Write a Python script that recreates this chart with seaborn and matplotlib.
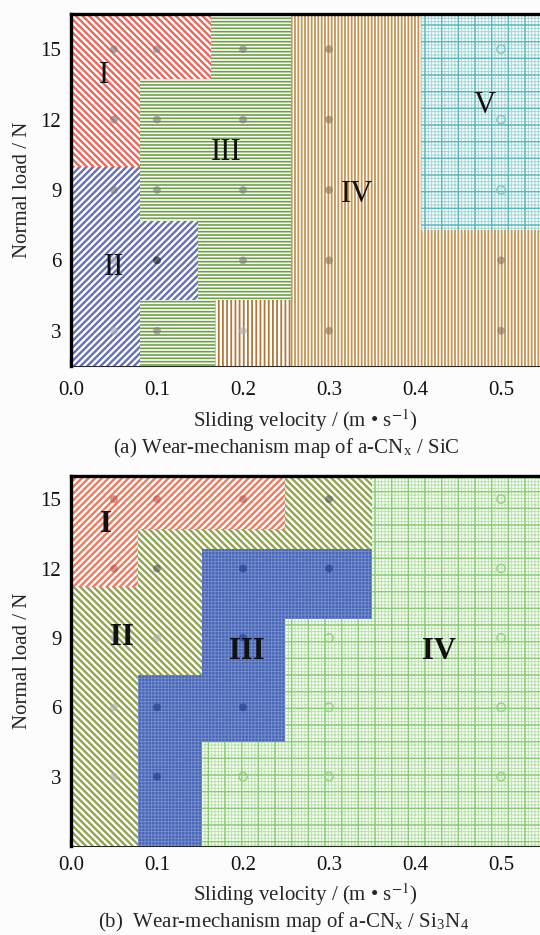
import matplotlib
matplotlib.use("Agg")
import matplotlib as mpl
import matplotlib.pyplot as plt
from matplotlib.patches import Rectangle
from matplotlib.ticker import MultipleLocator, FixedLocator
import seaborn as sns
import pandas as pd

sns.set_style("white")
plt.rcParams['font.family'] = ['Liberation Serif', 'DejaVu Serif']
plt.rcParams['mathtext.fontset'] = 'stix'

# ---------------- data ----------------
x_ticks = [0.0, 0.1, 0.2, 0.3, 0.4, 0.5]
x_ticklabels = ['0.0', '0.1', '0.2', '0.3', '0.4', '0.5']
y_ticks = [3, 6, 9, 12, 15]
y_ticklabels = ['3', '6', '9', '12', '15']

# region boundaries (x0, x1, y0, y1)
a_I = [(0.0, 0.080, 10.0, 16.5), (0.080, 0.163, 13.75, 16.5)]
a_II = [(0.0, 0.080, 1.5, 10.0), (0.080, 0.148, 4.3, 7.7)]
a_III = [(0.080, 0.168, 1.5, 4.3), (0.080, 0.148, 7.7, 13.75),
         (0.148, 0.256, 4.3, 13.75), (0.163, 0.256, 13.75, 16.5)]
a_IV = [(0.256, 0.407, 1.5, 16.5), (0.407, 0.56, 1.5, 7.3)]
a_IVb = [(0.168, 0.256, 1.5, 4.3)]
a_V = [(0.407, 0.56, 7.3, 16.5)]

b_I = [(0.0, 0.078, 11.2, 16.0), (0.078, 0.249, 13.7, 16.0)]
b_II = [(0.0, 0.078, 0.0, 11.2), (0.078, 0.152, 7.4, 13.7),
        (0.152, 0.249, 12.85, 13.7), (0.249, 0.350, 12.85, 16.0)]
b_III = [(0.078, 0.152, 0.0, 7.4), (0.152, 0.249, 4.5, 12.85),
         (0.249, 0.350, 9.8, 12.85)]
b_IV = [(0.152, 0.249, 0.0, 4.5), (0.249, 0.350, 0.0, 9.8), (0.350, 0.56, 0.0, 16.0)]

# region labels
a_labels = ['I', 'II', 'III', 'IV', 'V']
a_label_x = [0.038, 0.050, 0.180, 0.333, 0.481]
a_label_y = [13.9, 5.7, 10.6, 8.8, 12.6]
b_labels = ['I', 'II', 'III', 'IV']
b_label_x = [0.041, 0.059, 0.204, 0.428]
b_label_y = [13.9, 9.0, 8.4, 8.4]

# experiment points
pt_x = [0.05, 0.1, 0.2, 0.3, 0.5] * 5
pt_y = [15] * 5 + [12] * 5 + [9] * 5 + [6] * 5 + [3] * 5
a_group = ['grey', 'grey', 'grey', 'brown', 'cyan',
           'grey', 'grey', 'grey', 'brown', 'cyan',
           'grey', 'grey', 'grey', 'brown', 'cyan',
           'faint', 'black', 'grey', 'brown', 'brown',
           'faint', 'grey', 'faint', 'brown', 'brown']
b_group = ['red', 'red', 'red', 'dark', 'green',
           'red', 'dark', 'blue', 'blue', 'green',
           'faint', 'faint', 'blue', 'green', 'green',
           'faint', 'blue', 'blue', 'green', 'green',
           'faint', 'blue', 'green', 'green', 'green']

point_colors = {'grey': '#7a7a7a', 'faint': '#b0b0b0', 'black': '#111111',
                'brown': '#8a7060', 'red': '#c0504a', 'dark': '#555555',
                'blue': '#22378a'}
hollow_colors = {'cyan': '#7fc4c8', 'green': '#96d083'}

# ---------------- figure ----------------
W, H = 540, 935
fig = plt.figure(figsize=(W / 100, H / 100), dpi=100)
fig.patch.set_facecolor('#fcfcfc')

XR = 0.5453
ax_a = fig.add_axes([71 / W, 1 - 366 / H, (W - 71) / W, 352 / H])
ax_b = fig.add_axes([71 / W, 1 - 846 / H, (W - 71) / W, 370 / H])


def add_region(ax, rects, face='white', color='k', hatch=None, lw=1.0, z=1.0):
    for (x0, x1, y0, y1) in rects:
        with mpl.rc_context({'hatch.linewidth': lw}):
            p = Rectangle((x0, y0), x1 - x0, y1 - y0, facecolor=face,
                          edgecolor=color, hatch=hatch, linewidth=0, zorder=z)
        if hasattr(p, 'set_hatch_linewidth'):
            p.set_hatch_linewidth(lw)
        ax.add_patch(p)


def add_points(ax, groups):
    df = pd.DataFrame({'x': pt_x, 'y': pt_y, 'g': groups})
    filled = df[df['g'].isin(point_colors.keys())]
    sns.scatterplot(data=filled, x='x', y='y', hue='g', palette=point_colors,
                    ax=ax, s=32, alpha=0.6, linewidth=0, legend=False, zorder=5)
    for g, c in hollow_colors.items():
        sub = df[df['g'] == g]
        if len(sub):
            sns.scatterplot(data=sub, x='x', y='y', ax=ax, s=36, color=c,
                            linewidth=1.0, legend=False, zorder=5)
            coll = ax.collections[-1]
            coll.set_facecolor('none')
            coll.set_edgecolor(c)


def style_axes(ax, ylim, minor_y, tpad, xlpad):
    ax.set_xlim(0, XR)
    ax.set_ylim(*ylim)
    ax.set_xticks(x_ticks)
    ax.set_xticklabels(x_ticklabels)
    ax.set_yticks(y_ticks)
    ax.set_yticklabels(y_ticklabels)
    ax.xaxis.set_minor_locator(MultipleLocator(0.05))
    if minor_y:
        ax.yaxis.set_minor_locator(FixedLocator(minor_y))
    ax.tick_params(axis='both', which='major', direction='in', length=6, width=1.6,
                   labelsize=15, colors='#111111', left=True, bottom=True)
    ax.tick_params(axis='x', which='major', pad=tpad)
    ax.tick_params(axis='y', which='major', pad=7)
    ax.tick_params(axis='both', which='minor', direction='in', length=3, width=1.0,
                   left=True, bottom=True)
    for s in ['left', 'top']:
        ax.spines[s].set_linewidth(2.4)
        ax.spines[s].set_color('black')
        ax.spines[s].set_zorder(6)
    ax.spines['bottom'].set_linewidth(1.5)
    ax.spines['bottom'].set_zorder(0.5)
    ax.spines['right'].set_visible(False)
    ax.set_xlabel('Sliding velocity / (m • s$^{-1}$)', fontsize=15, labelpad=xlpad)
    ax.set_ylabel('Normal load / N', fontsize=15, labelpad=6)
    ax.set_facecolor('white')


# ---- (a) a-CNx / SiC ----
add_region(ax_a, a_I, color='#e8695c', hatch='\\\\\\\\\\', lw=1.7)
add_region(ax_a, a_II, color='#6470b8', hatch='/////', lw=1.7)
add_region(ax_a, a_III, color='#6e9f45', hatch='-----', lw=1.2)
add_region(ax_a, a_IV, color='#c49654', hatch='|||||', lw=1.3)
add_region(ax_a, a_IVb, color='#b27638', hatch='||||', lw=1.3)
add_region(ax_a, a_V, color='#9fd6d8', hatch='+++++', lw=0.7)
add_region(ax_a, a_V, face='none', color='#5cb8be', hatch='+', lw=1.0, z=1.1)
add_points(ax_a, a_group)
for t, x, y in zip(a_labels, a_label_x, a_label_y):
    ax_a.text(x, y, t, fontsize=22, ha='center', va='center', color='#111111', zorder=7)
style_axes(ax_a, (1.5, 16.5), None, tpad=11, xlpad=5)

# ---- (b) a-CNx / Si3N4 ----
add_region(ax_b, b_I, color='#f07a5e', hatch='/////', lw=1.7)
add_region(ax_b, b_II, color='#8fa44e', hatch='\\\\\\\\\\', lw=1.7)
add_region(ax_b, b_III, face='#4866b6', color='#7890cf', hatch='+++++', lw=0.6)
add_region(ax_b, b_IV, color='#b6e2a6', hatch='+++++', lw=0.7)
add_region(ax_b, b_IV, face='none', color='#88cc74', hatch='+', lw=1.0, z=1.1)
add_points(ax_b, b_group)
for t, x, y in zip(b_labels, b_label_x, b_label_y):
    ax_b.text(x, y, t, fontsize=22, fontweight='bold', ha='center', va='center',
              color='#111111', zorder=7)
style_axes(ax_b, (0, 16), [1.5, 4.5, 7.5, 10.5, 13.5], tpad=7, xlpad=5)

# captions
fig.text(286 / W, 1 - 448 / H, '(a) Wear-mechanism map of a-CN$_\\mathregular{x}$ / SiC',
         ha='center', va='center', fontsize=15)
fig.text(284 / W, 1 - 922 / H,
         '(b)  Wear-mechanism map of a-CN$_\\mathregular{x}$ / Si$_\\mathregular{3}$N$_\\mathregular{4}$',
         ha='center', va='center', fontsize=15)

fig.savefig('out.png', dpi=100, facecolor=fig.get_facecolor())
